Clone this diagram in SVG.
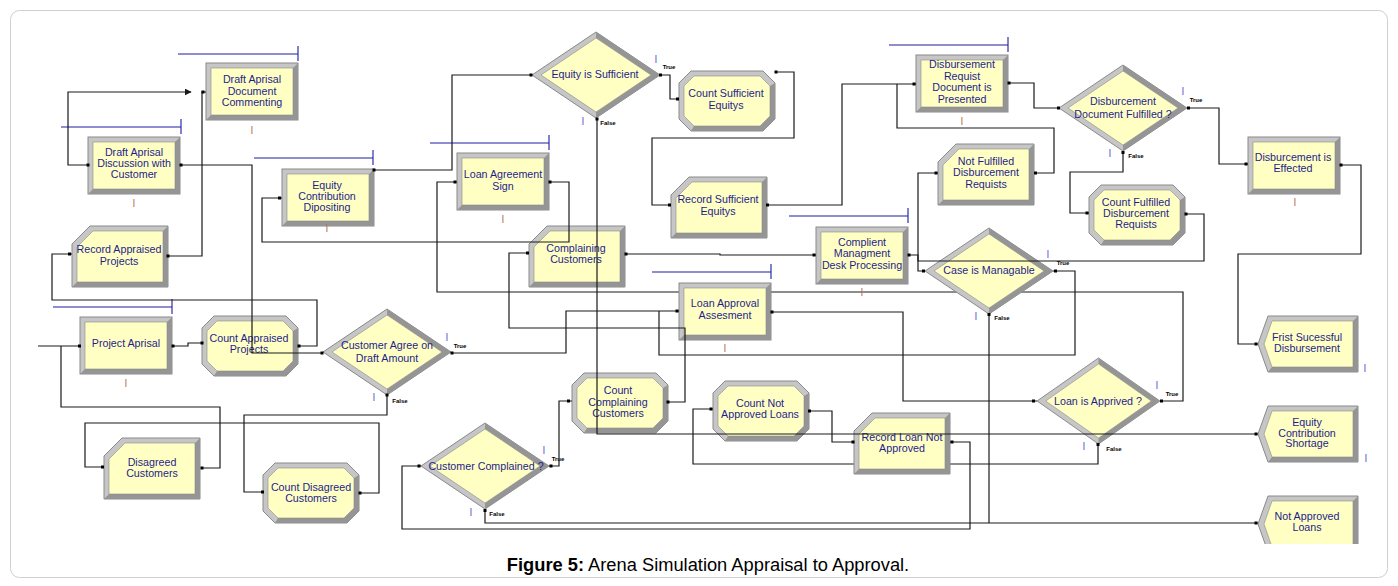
<svg xmlns="http://www.w3.org/2000/svg" width="1398" height="586" viewBox="0 0 1398 586">
<style>
.t{font-family:"Liberation Sans",Arial,sans-serif;font-size:10.7px;fill:#1e1e8a;text-anchor:middle}
.lb{font-family:"Liberation Sans",Arial,sans-serif;font-size:6px;font-weight:bold;fill:#000;text-anchor:middle}
.qi{font-family:"Liberation Sans",Arial,sans-serif;font-size:10px;fill:#5a5ad0;text-anchor:middle}
.pi{font-family:"Liberation Sans",Arial,sans-serif;font-size:10px;fill:#b8744c;text-anchor:middle}
.c{fill:none;stroke:#1a1a1a;stroke-width:1.2}
.bar{fill:none;stroke:#1c1ca0;stroke-width:1.1}
.o{fill:#c6c6c6;stroke:#8a8a8a;stroke-width:1}
.d{fill:#959595}
.i{fill:#ffffc4;stroke:#8a8a8a;stroke-width:0.6}
.dot{fill:#000}
</style>
<defs>
<clipPath id="clip"><rect x="0" y="0" width="1398" height="544"/></clipPath>
<marker id="arr" viewBox="0 0 10 10" refX="9" refY="5" markerWidth="7" markerHeight="7" markerUnits="userSpaceOnUse" orient="auto"><path d="M0,0 L10,5 L0,10 z" fill="#1a1a1a"/></marker>
<g id="proc"><rect class="o" x="0" y="0" width="92" height="57"/><polygon class="d" points="92,0 92,57 0,57 5,52 87,52 87,5"/><rect class="i" x="5" y="5" width="82" height="47"/></g>
<g id="rec"><polygon class="o" points="18,0 96,0 96,61 0,61 0,18"/><polygon class="d" points="96,0 96,61 0,61 5,56 91,56 91,5"/><polygon class="i" points="21,5 91,5 91,56 5,56 5,21"/></g>
<g id="cnt"><polygon class="o" points="12,0 84,0 96,12 96,48 84,60 12,60 0,48 0,12"/><polygon class="d" points="96,12 96,48 84,60 12,60 15,55 81,55 91,45 91,15"/><polygon class="i" points="15,5 81,5 91,15 91,45 81,55 15,55 5,45 5,15"/></g>
<g id="disp"><polygon class="o" points="10,0 100,0 100,56 10,56 0,28"/><polygon class="d" points="100,0 100,56 10,56 14,51 95,51 95,5"/><polygon class="i" points="14,5 95,5 95,51 14,51 6,28"/></g>
<g id="dia"><polygon class="o" points="0,-43 64,0 0,43 -64,0"/><polygon class="d" points="0,-43 64,0 0,43 0,37 55,0 0,-37"/><polygon class="i" points="0,-37 55,0 0,37 -55,0"/></g>
</defs>
<rect x="10.5" y="10.5" width="1377" height="567" rx="9" fill="#fff" stroke="#cfcfcf" stroke-width="1"/>
<g clip-path="url(#clip)">
<g id="connectors-under">
<polyline class="c" points="1160,401 1183,401 1183,292 437,292 437,182 457,182"/>
<polyline class="c" points="1098,443 1098,464 693,464 693,409 713,409"/>
</g>
<g id="bars">
<path class="bar" d="M178,54H298M298,46V61"/>
<path class="bar" d="M61,127H181M181,119V134"/>
<path class="bar" d="M53,307H172M172,299V314"/>
<path class="bar" d="M254,158H373M373,150V165"/>
<path class="bar" d="M430,143H549M549,135V150"/>
<path class="bar" d="M652,272H771M771,264V279"/>
<path class="bar" d="M789,216H908M908,208V223"/>
<path class="bar" d="M889,45H1008M1008,37V52"/>
</g>
<g id="n_commenting"><use href="#proc" x="206" y="63"/><text class="t" x="252"><tspan x="252" y="83">Draft Aprisal</tspan><tspan x="252" y="95">Document</tspan><tspan x="252" y="106">Commenting</tspan></text><text class="pi" x="252" y="134">I</text></g>
<g id="n_discussion"><use href="#proc" x="88" y="137"/><text class="t"><tspan x="134" y="156">Draft Aprisal</tspan><tspan x="134" y="167">Discussion with</tspan><tspan x="134" y="178">Customer</tspan></text><text class="pi" x="134" y="207">I</text></g>
<g id="n_project"><use href="#proc" x="80" y="317"/><text class="t" x="126" y="347">Project Aprisal</text><text class="pi" x="126" y="387">I</text></g>
<g id="n_equity_dep"><use href="#proc" x="282" y="169"/><text class="t"><tspan x="327" y="189">Equity</tspan><tspan x="327" y="200">Contribution</tspan><tspan x="327" y="211">Dipositing</tspan></text><text class="pi" x="327" y="232">I</text></g>
<g id="n_loan_sign"><use href="#proc" x="457" y="153"/><text class="t"><tspan x="503" y="178">Loan Agreement</tspan><tspan x="503" y="190">Sign</tspan></text><text class="pi" x="503" y="223">I</text></g>
<g id="n_loan_approval"><use href="#proc" x="679" y="283"/><text class="t"><tspan x="725" y="307">Loan Approval</tspan><tspan x="725" y="319">Assesment</tspan></text><text class="pi" x="725" y="352">I</text></g>
<g id="n_complient"><use href="#proc" x="816" y="227"/><text class="t"><tspan x="862" y="246">Complient</tspan><tspan x="862" y="257">Managment</tspan><tspan x="862" y="269">Desk Processing</tspan></text><text class="pi" x="862" y="296">I</text></g>
<g id="n_disb_req"><use href="#proc" x="916" y="55"/><text class="t"><tspan x="962" y="68">Disbursement</tspan><tspan x="962" y="80">Requist</tspan><tspan x="962" y="91">Document is</tspan><tspan x="962" y="103">Presented</tspan></text><text class="pi" x="962" y="125">I</text></g>
<g id="n_disb_eff"><use href="#proc" x="1248" y="137"/><text class="t"><tspan x="1293" y="161">Disburcement is</tspan><tspan x="1293" y="172">Effected</tspan></text><text class="pi" x="1295" y="206">I</text></g>
<g id="n_record_appraised"><use href="#rec" x="72" y="226"/><text class="t"><tspan x="119" y="253">Record Appraised</tspan><tspan x="119" y="265">Projects</tspan></text></g>
<g id="n_disagreed"><use href="#rec" x="104" y="438"/><text class="t"><tspan x="152" y="466">Disagreed</tspan><tspan x="152" y="477">Customers</tspan></text></g>
<g id="n_complaining"><use href="#rec" x="529" y="226"/><text class="t"><tspan x="576" y="252">Complaining</tspan><tspan x="576" y="263">Customers</tspan></text></g>
<g id="n_record_suff"><use href="#rec" x="671" y="177"/><text class="t"><tspan x="718" y="203">Record Sufficient</tspan><tspan x="718" y="215">Equitys</tspan></text></g>
<g id="n_not_fulfilled"><use href="#rec" x="938" y="144"/><text class="t"><tspan x="986" y="165">Not Fulfilled</tspan><tspan x="986" y="176">Disburcement</tspan><tspan x="986" y="188">Requists</tspan></text></g>
<g id="n_record_loan"><use href="#rec" x="854" y="413"/><text class="t"><tspan x="902" y="441">Record Loan Not</tspan><tspan x="902" y="452">Approved</tspan></text></g>
<g id="n_count_appraised"><use href="#cnt" x="202" y="316"/><text class="t"><tspan x="249" y="342">Count Appraised</tspan><tspan x="249" y="353">Projects</tspan></text></g>
<g id="n_count_disagreed"><use href="#cnt" x="263" y="463"/><text class="t"><tspan x="311" y="491">Count Disagreed</tspan><tspan x="311" y="502">Customers</tspan></text></g>
<g id="n_count_suff"><use href="#cnt" x="679" y="71"/><text class="t"><tspan x="726" y="97">Count Sufficient</tspan><tspan x="726" y="109">Equitys</tspan></text></g>
<g id="n_count_complaining"><use href="#cnt" x="572" y="373"/><text class="t"><tspan x="618" y="394">Count</tspan><tspan x="618" y="406">Complaining</tspan><tspan x="618" y="417">Customers</tspan></text></g>
<g id="n_count_not_approved"><use href="#cnt" x="713" y="381"/><text class="t"><tspan x="760" y="407">Count Not</tspan><tspan x="760" y="418">Approved Loans</tspan></text></g>
<g id="n_count_fulfilled"><use href="#cnt" x="1089" y="185"/><text class="t"><tspan x="1136" y="206">Count Fulfilled</tspan><tspan x="1136" y="217">Disburcement</tspan><tspan x="1136" y="228">Requists</tspan></text></g>
<g id="n_customer_agree"><use href="#dia" transform="translate(387,352)"/><text class="t"><tspan x="387" y="349">Customer Agree on</tspan><tspan x="387" y="362">Draft Amount</tspan></text><text class="qi" x="447" y="341">I</text><text class="lb" x="460" y="348">True</text><text class="qi" x="374" y="401">I</text><text class="lb" x="400" y="403">False</text></g>
<g id="n_equity_suff"><use href="#dia" transform="translate(596,75)"/><text class="t" x="595" y="78">Equity is Sufficient</text><text class="qi" x="656" y="63">I</text><text class="lb" x="669" y="69">True</text><text class="qi" x="583" y="125">I</text><text class="lb" x="608" y="125">False</text></g>
<g id="n_case"><use href="#dia" transform="translate(989,271)"/><text class="t" x="989" y="274">Case is Managable</text><text class="qi" x="1048" y="258">I</text><text class="lb" x="1063" y="265">True</text><text class="qi" x="976" y="320">I</text><text class="lb" x="1002" y="320">False</text></g>
<g id="n_disb_doc"><use href="#dia" transform="translate(1123,108)"/><text class="t"><tspan x="1123" y="105">Disburcement</tspan><tspan x="1123" y="118">Document Fulfilled ?</tspan></text><text class="qi" x="1183" y="95">I</text><text class="lb" x="1196" y="102">True</text><text class="qi" x="1110" y="157">I</text><text class="lb" x="1136" y="158">False</text></g>
<g id="n_cust_complained"><use href="#dia" transform="translate(485,466)"/><text class="t" x="486" y="470">Customer Complained ?</text><text class="qi" x="544" y="454">I</text><text class="lb" x="558" y="461">True</text><text class="qi" x="471" y="516">I</text><text class="lb" x="497" y="516">False</text></g>
<g id="n_loan_approved"><use href="#dia" transform="translate(1098.5,401) scale(0.96,1)"/><text class="t" x="1098" y="405">Loan is Apprived ?</text><text class="qi" x="1157" y="389">I</text><text class="lb" x="1172" y="396">True</text><text class="qi" x="1084" y="450">I</text><text class="lb" x="1114" y="451">False</text></g>
<g id="n_first"><use href="#disp" x="1258" y="316"/><text class="t"><tspan x="1307" y="341">Frist Sucessful</tspan><tspan x="1307" y="352">Disbursement</tspan></text><text class="qi" x="1365" y="372">I</text></g>
<g id="n_equity_short"><use href="#disp" x="1258" y="406"/><text class="t"><tspan x="1307" y="426">Equity</tspan><tspan x="1307" y="437">Contribution</tspan><tspan x="1307" y="447">Shortage</tspan></text><text class="qi" x="1366" y="462">I</text></g>
<g id="n_not_approved"><use href="#disp" x="1258" y="496"/><text class="t"><tspan x="1307" y="520">Not Approved</tspan><tspan x="1307" y="531">Loans</tspan></text></g>
<g id="connectors">
<polyline class="c" points="38,346 80,346"/>
<polyline class="c" points="202,468 220,468 220,407 61,407 61,346"/>
<polyline class="c" points="172,346 188,346 188,343 202,343"/>
<polyline class="c" points="298,346 317,346 317,300 52,300 52,254 72,254"/>
<polyline class="c" points="168,256 202,256 202,92 206,92"/>
<polyline class="c" points="88,165 68,165 68,92 191,92" marker-end="url(#arr)"/>
<polyline class="c" points="181,165 252,165 252,353 323,353"/>
<polyline class="c" points="451,353 566,353 566,311 679,311"/>
<polyline class="c" points="387,395 387,415 244,415 244,492 263,492"/>
<polyline class="c" points="359,493 379,493 379,423 85,423 85,467 104,467"/>
<polyline class="c" points="374,170 452,170 452,75 532,75"/>
<polyline class="c" points="660,75 670,75 670,99 679,99"/>
<polyline class="c" points="775,72 794,72 794,138 652,138 652,205 671,205"/>
<polyline class="c" points="767,205 842,205 842,84 916,84"/>
<polyline class="c" points="1008,83 1034,83 1034,108 1059,108"/>
<polyline class="c" points="1187,108 1219,108 1219,164 1248,164"/>
<polyline class="c" points="1123,151 1123,172 1070,172 1070,213 1089,213"/>
<polyline class="c" points="1185,214 1204,214 1204,261 918,261 918,173 938,173"/>
<polyline class="c" points="1034,173 1054,173 1054,128 897,128 897,84"/>
<polyline class="c" points="1340,165 1361,165 1361,254 1238,254 1238,344 1258,344"/>
<polyline class="c" points="597,118 597,434 1258,434"/>
<polyline class="c" points="549,182 569,182 569,242 262,242 262,198 282,198"/>
<polyline class="c" points="771,312 903,312 903,401 1037,401"/>
<polyline class="c" points="1053,271 1075,271 1075,355 659,355 659,311"/>
<polyline class="c" points="989,314 989,523"/>
<polyline class="c" points="485,509 485,523 1258,523"/>
<polyline class="c" points="950,442 970,442 970,529 402,529 402,466 421,466"/>
<polyline class="c" points="809,411 832,411 832,442 854,442"/>
<polyline class="c" points="549,466 559,466 559,401 572,401"/>
<polyline class="c" points="667,402 685,402 685,328 509,328 509,253 529,253"/>
<polyline class="c" points="625,254 720,254 720,255 816,255"/>
<polyline class="c" points="908,255 918,255 918,271 925,271"/>
</g>
<g id="dots">
<rect class="dot" x="78" y="344.5" width="3" height="3"/>
<rect class="dot" x="171.5" y="344.5" width="3" height="3"/>
<rect class="dot" x="200.5" y="341.5" width="3" height="3"/>
<rect class="dot" x="297.5" y="344.5" width="3" height="3"/>
<rect class="dot" x="320.5" y="351.5" width="3" height="3"/>
<rect class="dot" x="450.5" y="351.5" width="3" height="3"/>
<rect class="dot" x="385.5" y="393.5" width="3" height="3"/>
<rect class="dot" x="68" y="252.5" width="3" height="3"/>
<rect class="dot" x="166.5" y="254.5" width="3" height="3"/>
<rect class="dot" x="201.5" y="90.5" width="3" height="3"/>
<rect class="dot" x="86.5" y="163.5" width="3" height="3"/>
<rect class="dot" x="179.5" y="163.5" width="3" height="3"/>
<rect class="dot" x="200.5" y="466.5" width="3" height="3"/>
<rect class="dot" x="101" y="465.5" width="3" height="3"/>
<rect class="dot" x="261" y="490.5" width="3" height="3"/>
<rect class="dot" x="358.5" y="491.5" width="3" height="3"/>
<rect class="dot" x="372.5" y="168.5" width="3" height="3"/>
<rect class="dot" x="529.5" y="73.5" width="3" height="3"/>
<rect class="dot" x="659" y="73.5" width="3" height="3"/>
<rect class="dot" x="676" y="97.5" width="3" height="3"/>
<rect class="dot" x="774.5" y="70.5" width="3" height="3"/>
<rect class="dot" x="668" y="203.5" width="3" height="3"/>
<rect class="dot" x="766" y="203.5" width="3" height="3"/>
<rect class="dot" x="912.5" y="82.5" width="3" height="3"/>
<rect class="dot" x="1007.5" y="81.5" width="3" height="3"/>
<rect class="dot" x="1057" y="106.5" width="3" height="3"/>
<rect class="dot" x="1187" y="106.5" width="3" height="3"/>
<rect class="dot" x="1244.5" y="162.5" width="3" height="3"/>
<rect class="dot" x="1121.5" y="151" width="3" height="3"/>
<rect class="dot" x="1085.5" y="211.5" width="3" height="3"/>
<rect class="dot" x="1184.5" y="212.5" width="3" height="3"/>
<rect class="dot" x="934.5" y="171.5" width="3" height="3"/>
<rect class="dot" x="1034" y="171.5" width="3" height="3"/>
<rect class="dot" x="1339.5" y="163.5" width="3" height="3"/>
<rect class="dot" x="1254.5" y="342.5" width="3" height="3"/>
<rect class="dot" x="1254.5" y="432.5" width="3" height="3"/>
<rect class="dot" x="1254.5" y="521.5" width="3" height="3"/>
<rect class="dot" x="595.5" y="117.5" width="3" height="3"/>
<rect class="dot" x="548.5" y="180.5" width="3" height="3"/>
<rect class="dot" x="453.5" y="180.5" width="3" height="3"/>
<rect class="dot" x="278" y="196.5" width="3" height="3"/>
<rect class="dot" x="675.5" y="309.5" width="3" height="3"/>
<rect class="dot" x="770.5" y="310.5" width="3" height="3"/>
<rect class="dot" x="1032" y="399.5" width="3" height="3"/>
<rect class="dot" x="1160" y="399.5" width="3" height="3"/>
<rect class="dot" x="1096.5" y="443" width="3" height="3"/>
<rect class="dot" x="1054" y="269.5" width="3" height="3"/>
<rect class="dot" x="987.5" y="313" width="3" height="3"/>
<rect class="dot" x="922" y="269.5" width="3" height="3"/>
<rect class="dot" x="907.5" y="253.5" width="3" height="3"/>
<rect class="dot" x="812.5" y="253.5" width="3" height="3"/>
<rect class="dot" x="624.5" y="252.5" width="3" height="3"/>
<rect class="dot" x="526" y="251.5" width="3" height="3"/>
<rect class="dot" x="666.5" y="400.5" width="3" height="3"/>
<rect class="dot" x="567" y="399.5" width="3" height="3"/>
<rect class="dot" x="549.5" y="464.5" width="3" height="3"/>
<rect class="dot" x="417.5" y="464.5" width="3" height="3"/>
<rect class="dot" x="483.5" y="509" width="3" height="3"/>
<rect class="dot" x="709.5" y="407.5" width="3" height="3"/>
<rect class="dot" x="808" y="409.5" width="3" height="3"/>
<rect class="dot" x="851.5" y="440.5" width="3" height="3"/>
<rect class="dot" x="950.5" y="440.5" width="3" height="3"/>
</g>
</g>
<text x="708" y="571" style="font-family:'Liberation Sans',Arial,sans-serif;font-size:18.3px;fill:#000;text-anchor:middle"><tspan font-weight="bold">Figure 5:</tspan> Arena Simulation Appraisal to Approval.</text>
</svg>
